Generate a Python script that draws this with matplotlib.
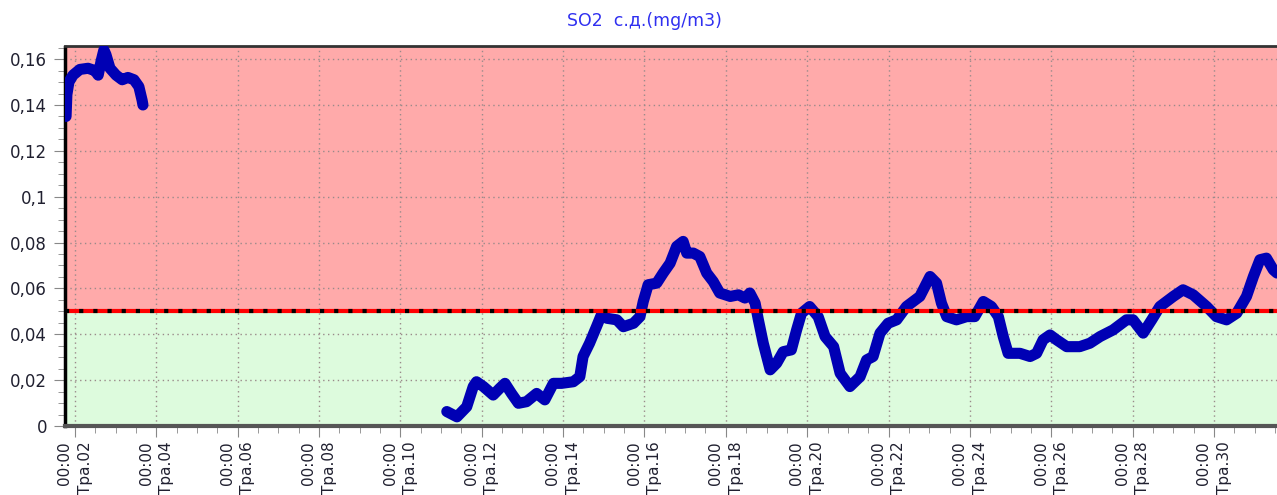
import numpy as np
import pandas as pd
import matplotlib
matplotlib.use("Agg")
import matplotlib.pyplot as plt
import matplotlib.dates as mdates
from matplotlib.ticker import MultipleLocator, FuncFormatter

plt.rcParams['font.family'] = ['DejaVu Sans']

title = "SO2  с.д.(mg/m3)"
limit = 0.05

# day of month (May), fractional; two separate recording periods
day1 = [1.78, 1.80, 1.85, 1.95, 2.12, 2.32, 2.49, 2.57, 2.64, 2.71, 2.76,
        2.86, 3.01, 3.16, 3.30, 3.45, 3.57, 3.65, 3.67]
so2_1 = [0.135, 0.1445, 0.150, 0.153, 0.1555, 0.156, 0.155, 0.153, 0.159,
         0.164, 0.162, 0.156, 0.153, 0.151, 0.152, 0.151, 0.148, 0.142, 0.140]

day2 = [11.14, 11.39, 11.63, 11.79, 11.87, 12.04, 12.28, 12.44, 12.57, 12.73,
        12.90, 13.10, 13.35, 13.55, 13.76, 13.96, 14.25, 14.41, 14.49, 14.65,
        14.82, 14.94, 15.07, 15.32, 15.48, 15.73, 15.89, 15.97, 16.09, 16.30,
        16.46, 16.63, 16.79, 16.95, 17.04, 17.20, 17.36, 17.53, 17.69, 17.85,
        18.11, 18.31, 18.47, 18.59, 18.72, 18.80, 18.92, 19.09, 19.25, 19.41,
        19.61, 19.74, 19.86, 20.06, 20.27, 20.44, 20.65, 20.81, 21.05, 21.30,
        21.46, 21.62, 21.79, 21.99, 22.20, 22.44, 22.77, 23.02, 23.18, 23.30,
        23.43, 23.67, 23.92, 24.12, 24.33, 24.53, 24.70, 24.82, 24.94, 25.23,
        25.48, 25.64, 25.80, 25.97, 26.13, 26.38, 26.70, 26.95, 27.20, 27.52,
        27.85, 28.01, 28.26, 28.47, 28.67, 29.00, 29.24, 29.49, 29.82, 30.06,
        30.31, 30.56, 30.80, 30.97, 31.13, 31.29, 31.46, 31.55]
so2_2 = [0.0063, 0.0040, 0.0084, 0.0172, 0.0193, 0.0172, 0.0135, 0.0164, 0.0186, 0.0142,
         0.0099, 0.0106, 0.0142, 0.0114, 0.0186, 0.0186, 0.0193, 0.0215, 0.0303, 0.0361,
         0.0433, 0.0485, 0.0470, 0.0463, 0.0433, 0.0448, 0.0477, 0.0543, 0.0616, 0.0623,
         0.0667, 0.0710, 0.0783, 0.0805, 0.0754, 0.0754, 0.0739, 0.0667, 0.0630, 0.0580,
         0.0565, 0.0572, 0.0558, 0.0580, 0.0536, 0.0463, 0.0361, 0.0245, 0.0274, 0.0324,
         0.0332, 0.0419, 0.0492, 0.0521, 0.0477, 0.0390, 0.0346, 0.0230, 0.0172, 0.0215,
         0.0288, 0.0303, 0.0405, 0.0448, 0.0463, 0.0521, 0.0565, 0.0652, 0.0623, 0.0536,
         0.0477, 0.0463, 0.0477, 0.0477, 0.0543, 0.0521, 0.0477, 0.0390, 0.0317, 0.0317,
         0.0303, 0.0317, 0.0376, 0.0397, 0.0376, 0.0346, 0.0346, 0.0361, 0.0390, 0.0419,
         0.0463, 0.0463, 0.0405, 0.0463, 0.0521, 0.0565, 0.0594, 0.0572, 0.0521, 0.0477,
         0.0463, 0.0492, 0.0565, 0.0652, 0.0725, 0.0732, 0.0681, 0.0667]

base = pd.Timestamp("2019-05-01")


def to_time(days):
    return base + pd.to_timedelta(np.array(days) - 1, unit="D")


fig = plt.figure(figsize=(12.77, 4.95), dpi=100)
ax = fig.add_axes([65 / 1277, 69 / 495, 1 - 65 / 1277, (426 - 46.5) / 495])

ax.axhspan(limit, 1, color="#FFAAAA", zorder=0, lw=0)
ax.axhspan(0, limit, color="#DDFBDD", zorder=0, lw=0)

ax.grid(True, which="major", color="#9a8a8a", linestyle=(0, (1, 2.5)),
        linewidth=1, zorder=1)

for d, v in [(day1, so2_1), (day2, so2_2)]:
    ax.plot(to_time(d), v, color="#0000B4", lw=8, solid_joinstyle="round",
            solid_capstyle="round", zorder=3)

ax.axhline(limit, color="#FF0000", lw=3, zorder=4)
ax.axhline(limit, color="black", lw=3, linestyle=(0, (1, 2.4)), zorder=5)

ax.set_xlim(to_time([1.754])[0], to_time([31.55])[0])
ax.set_ylim(0, 0.1655)

ax.xaxis.set_major_locator(mdates.DayLocator(bymonthday=range(2, 32, 2)))
ax.xaxis.set_minor_locator(mdates.HourLocator(byhour=[0, 12]))
ax.xaxis.set_major_formatter(mdates.DateFormatter("%H:%M\nТра.%d"))
ax.yaxis.set_major_locator(MultipleLocator(0.02))
ax.yaxis.set_minor_locator(MultipleLocator(0.005))
ax.yaxis.set_major_formatter(FuncFormatter(lambda v, p: ("%g" % round(v, 4)).replace(".", ",")))

for lbl in ax.get_xticklabels():
    lbl.set_rotation(90)
    lbl.set_multialignment("right")
    lbl.set_horizontalalignment("center")
    lbl.set_linespacing(1.45)
ax.tick_params(axis="x", which="major", length=8, color="#888888", labelsize=11,
               labelcolor="#202030", pad=3)
ax.tick_params(axis="x", which="minor", length=5, color="#888888")
ax.tick_params(axis="y", which="major", length=8, color="#888888", labelsize=12,
               labelcolor="#202030", pad=5)
ax.tick_params(axis="y", which="minor", length=5, color="#888888")

ax.spines["right"].set_visible(False)
ax.spines["left"].set_linewidth(2.5)
ax.spines["left"].set_color("black")
ax.spines["top"].set_linewidth(2)
ax.spines["top"].set_color("#333333")
ax.spines["bottom"].set_linewidth(3)
ax.spines["bottom"].set_color("#555555")

fig.text(0.505, 0.958, title, color="#3030F0", fontsize=12.5, ha="center", va="center")

fig.savefig("out.png", dpi=100)
